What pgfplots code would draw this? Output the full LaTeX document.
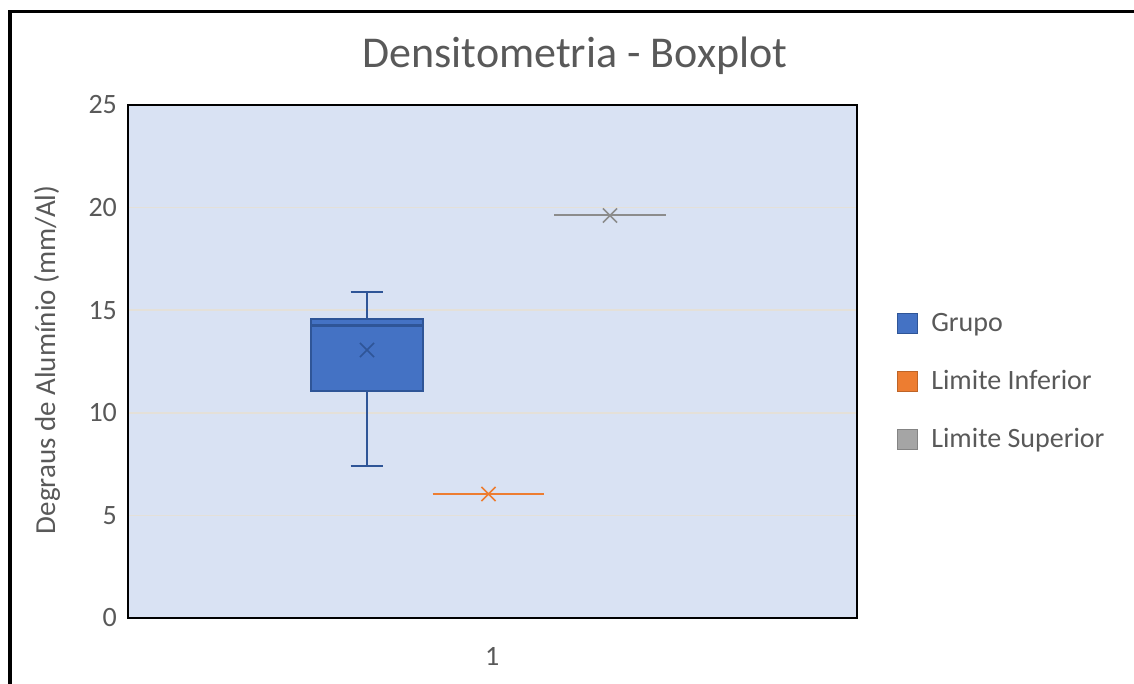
\documentclass[border=0pt]{standalone}
\usepackage{pgfplots}
\pgfplotsset{compat=1.18}
\usepackage{fontspec}
\setmainfont{Carlito}
\definecolor{exblue}{HTML}{4472C4}
\definecolor{exblueedge}{HTML}{2F5597}
\definecolor{exorange}{HTML}{ED7D31}
\definecolor{exgray}{HTML}{A5A5A5}
\definecolor{bgblue}{HTML}{D9E2F3}
\definecolor{gridc}{HTML}{E4E0D8}
\definecolor{txt}{HTML}{595959}
\begin{document}
\begin{tikzpicture}
\path[use as bounding box] (0,0) rectangle (567pt,342pt);
\draw[black, line width=1.8pt] (5pt,0) -- (5pt,336.3pt) -- (567pt,336.3pt);
\begin{axis}[
  at={(64pt,33pt)}, anchor=south west,
  width=364.5pt, height=256.5pt, scale only axis,
  xmin=-0.967, xmax=5.033, ymin=0, ymax=25,
  ytick={0,5,...,25}, xtick={2.03}, xticklabels={1},
  major tick length=0pt,
  ymajorgrids, grid style={gridc, line width=0.8pt},
  axis background/.style={fill=bgblue},
  axis line style={black, line width=1.2pt},
  tick label style={font=\fontsize{14}{16}\selectfont, text=txt},
  /pgf/number format/assume math mode=true,
  yticklabel style={xshift=-2pt},
  xticklabel style={yshift=-11pt},
  ylabel={Degraus de Alumínio (mm/Al)},
  ylabel style={at={(axis description cs:-0.111,0.503)}, anchor=center, font=\fontsize{14.5}{16}\selectfont, text=txt},
  title={Densitometria - Boxplot},
  title style={at={(axis description cs:0.613,1.072)}, anchor=center, font=\fontsize{22}{26}\selectfont, text=txt},
  legend style={at={(axis description cs:1.055,0.46)}, anchor=west, draw=none, fill=none,
    font=\fontsize{14}{16}\selectfont, text=txt, row sep=14pt, inner sep=0pt,
    /tikz/every odd column/.append style={column sep=4.5pt}},
  legend cell align=left,
]
\addlegendimage{legend image code/.code={\draw[fill=exblue, draw=exblueedge, line width=0.4pt] (0pt,-5pt) rectangle (10pt,5pt);}}
\addlegendentry{Grupo}
\addlegendimage{legend image code/.code={\draw[fill=exorange, draw=exorange!80!black, line width=0.4pt] (0pt,-5pt) rectangle (10pt,5pt);}}
\addlegendentry{Limite Inferior}
\addlegendimage{legend image code/.code={\draw[fill=exgray, draw=exgray!80!black, line width=0.4pt] (0pt,-5pt) rectangle (10pt,5pt);}}
\addlegendentry{Limite Superior}

% Grupo box plot: whiskers 7.41 / 15.89, quartiles 11.06 / 14.57, median 14.25, mean 13.06
\addplot[exblueedge, line width=0.9pt, forget plot] coordinates {(1,7.41) (1,11.06)};
\addplot[exblueedge, line width=0.9pt, forget plot] coordinates {(1,14.57) (1,15.89)};
\addplot[exblueedge, line width=0.9pt, forget plot] coordinates {(0.865,7.41) (1.135,7.41)};
\addplot[exblueedge, line width=0.9pt, forget plot] coordinates {(0.865,15.89) (1.135,15.89)};
\addplot[fill=exblue, draw=exblueedge, line width=0.9pt, forget plot] coordinates {(0.54,11.06) (1.46,11.06) (1.46,14.57) (0.54,14.57)} -- cycle;
\addplot[exblueedge, line width=1.1pt, forget plot] coordinates {(0.54,14.25) (1.46,14.25)};
\addplot[only marks, mark=x, mark size=5pt, exblueedge, line width=0.8pt, forget plot] coordinates {(1,13.06)};

\addplot[exorange, line width=1.1pt, forget plot] coordinates {(1.54,6.04) (2.46,6.04)};
\addplot[only marks, mark=x, mark size=5pt, exorange, line width=0.8pt, forget plot] coordinates {(2,6.04)};

\addplot[exgray!85!black, line width=1.1pt, forget plot] coordinates {(2.54,19.62) (3.46,19.62)};
\addplot[only marks, mark=x, mark size=5pt, exgray!85!black, line width=0.8pt, forget plot] coordinates {(3,19.62)};
\end{axis}
\end{tikzpicture}
\end{document}
